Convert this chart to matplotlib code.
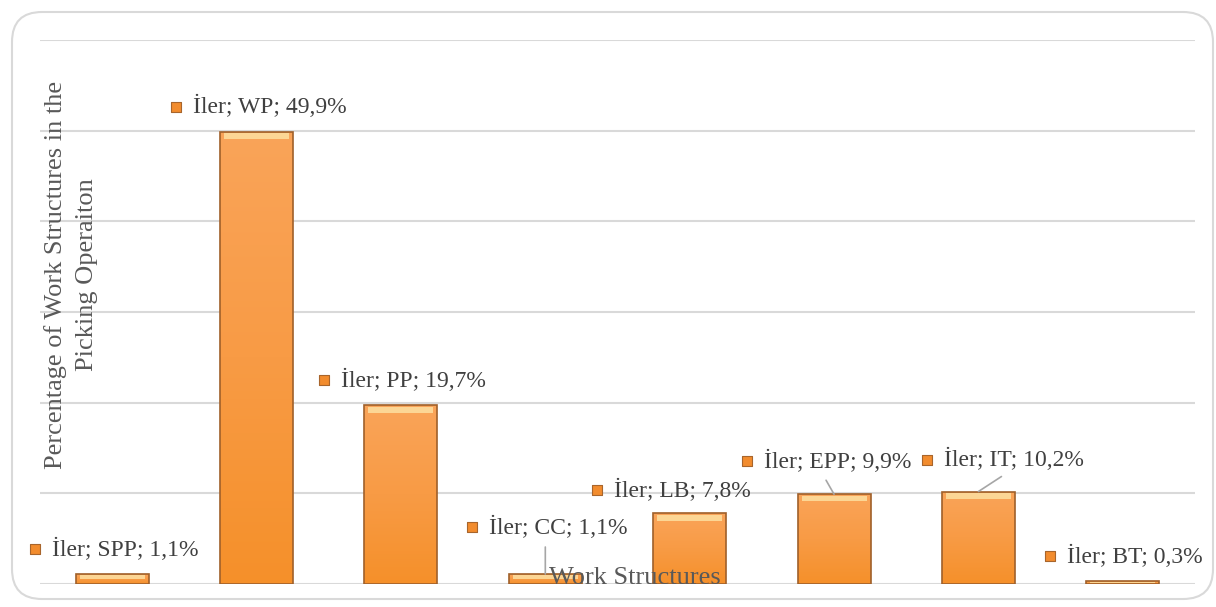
import numpy as np
import matplotlib
matplotlib.use('Agg')
import matplotlib.pyplot as plt
from matplotlib.colors import LinearSegmentedColormap
from matplotlib.patches import FancyBboxPatch
from matplotlib.transforms import offset_copy

# data
categories = ['SPP', 'WP', 'PP', 'CC', 'LB', 'EPP', 'IT', 'BT']
values = [1.1, 49.9, 19.7, 1.1, 7.8, 9.9, 10.2, 0.3]
series_name = 'İler'

# label placement, pixels relative to bar top centre (marker centre)
label_dx = [-77, -81, -77, -73, -93, -87, -51, -73]
label_dy = [25, 25, 25, 47, 23, 33, 32, 25]
# leader lines: start offset from bar top, None = no line
leader = [None, None, None, (0, 27), None, (-8, 14), (23, 15), None]

plt.rcParams['font.family'] = ['Liberation Serif', 'DejaVu Serif']

fig = plt.figure(figsize=(12.16, 6.07), dpi=100)
ax = fig.add_axes([40 / 1216, 23 / 607, 1155 / 1216, 544 / 607])

x = np.arange(len(categories))
bars = ax.bar(x, values, width=0.505, color='none', edgecolor='#A0602A',
              linewidth=1.2, zorder=4)

# soft orange gradient inside every bar
cmap = LinearSegmentedColormap.from_list('bar', ['#F5902A', '#F89B45', '#FAA459'])
grad = np.linspace(0, 1, 256).reshape(-1, 1)
for b in bars:
    x0, w, h = b.get_x(), b.get_width(), b.get_height()
    im = ax.imshow(grad, cmap=cmap, origin='lower', aspect='auto',
                   extent=(x0, x0 + w, 0, h), zorder=3, interpolation='bicubic')
    im.set_clip_path(b)

# pale bevel near the top of each bar
hl = [min(0.6, v * 0.4) for v in values]
ax.bar(x, hl, bottom=[v - h - min(0.2, v * 0.12) for v, h in zip(values, hl)],
       width=0.45, color='#FDDC9C', edgecolor='none', alpha=0.9, zorder=3.5)

ax.set_xlim(-0.5, len(categories) - 0.5)
ax.set_ylim(0, 60)
ax.set_yticks(np.arange(0, 61, 10))
ax.set_xticks([])
ax.tick_params(left=False, labelleft=False)
ax.grid(axis='y', color='#D9D9D9', linewidth=1.5, zorder=0)
for s in ax.spines.values():
    s.set_visible(False)

for i, (cat, v) in enumerate(zip(categories, values)):
    tr = offset_copy(ax.transData, fig=fig, x=label_dx[i], y=label_dy[i], units='dots')
    ax.scatter([i], [v], marker='s', s=55, color='#F28C2E', edgecolor='#A8652C',
               linewidth=0.8, transform=tr, zorder=6, clip_on=False)
    tr2 = offset_copy(ax.transData, fig=fig, x=label_dx[i] + 17, y=label_dy[i], units='dots')
    ax.text(i, v, f'{series_name}; {cat}; {str(v).replace(".", ",")}%',
            transform=tr2, ha='left', va='center', fontsize=17,
            color='#404040', zorder=6, clip_on=False)
    if leader[i] is not None:
        ax.annotate('', xy=(i, v), xytext=leader[i], textcoords='offset pixels',
                    arrowprops=dict(arrowstyle='-', color='#A6A6A6', lw=1.2,
                                    shrinkA=0, shrinkB=0), zorder=5)

fig.text(635 / 1216, 1 - 578 / 607, 'Work Structures', ha='center', va='center',
         fontsize=19, color='#595959', zorder=10)
fig.text(71 / 1216, 1 - 275 / 607, 'Percentage of Work Structures in the\nPicking Operaiton',
         rotation=90, ha='center', va='center', fontsize=19, color='#595959',
         linespacing=1.5)

border = FancyBboxPatch((0.12, 0.08), 12.01, 5.87,
                        boxstyle='round,pad=0,rounding_size=0.3',
                        transform=fig.dpi_scale_trans, facecolor='none',
                        edgecolor='#D9D9D9', linewidth=1.5)
fig.patches.append(border)

fig.savefig('out.png', dpi=100)
